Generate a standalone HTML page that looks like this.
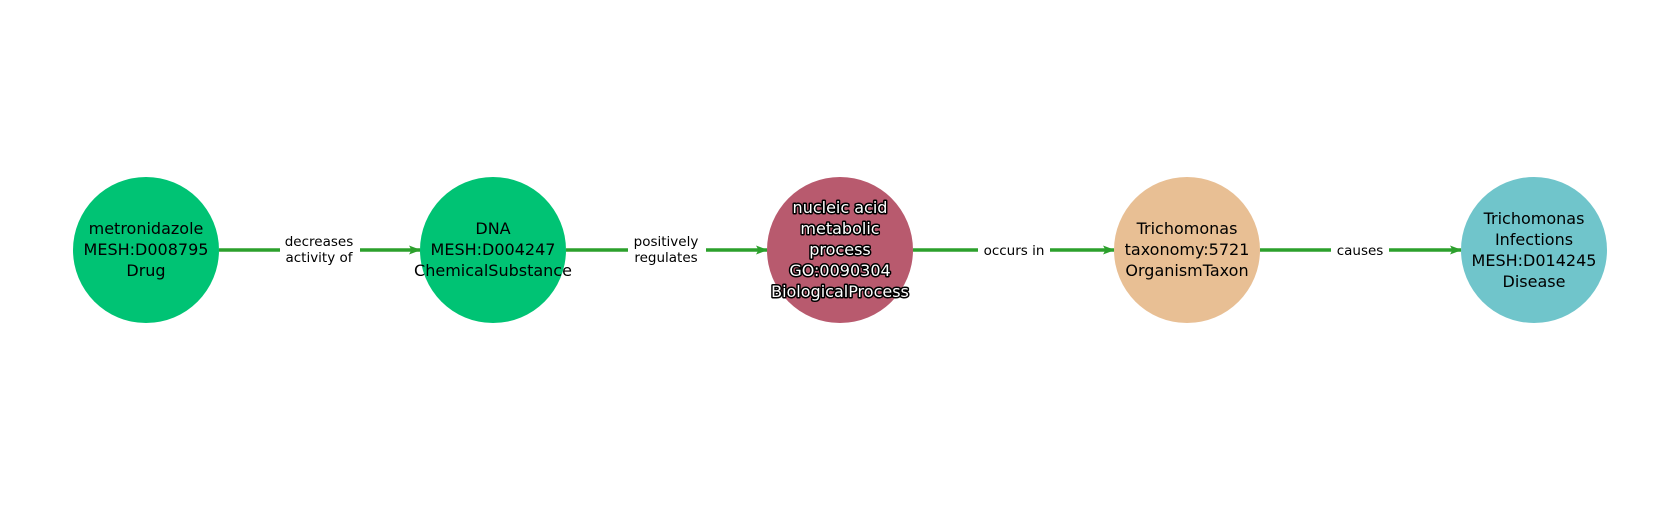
<!DOCTYPE html>
<html><head><meta charset="utf-8"><style>html,body{margin:0;padding:0;background:#fff}</style></head>
<body>
<svg width="1680" height="500" viewBox="0 0 1680 500" xmlns="http://www.w3.org/2000/svg" font-family="'DejaVu Sans', 'Liberation Sans', sans-serif">
<defs><marker id="a" markerWidth="12" markerHeight="12" refX="11" refY="6" orient="auto" markerUnits="userSpaceOnUse"><path d="M0,1.5 L12,6 L0,10.5 L2.5,6 Z" fill="#2ca02c"/></marker></defs>
<g stroke="#2ca02c" stroke-width="3.5" marker-end="url(#a)">
<line x1="219" y1="250" x2="420" y2="250"/>
<line x1="566" y1="250" x2="767" y2="250"/>
<line x1="913" y1="250" x2="1114" y2="250"/>
<line x1="1260" y1="250" x2="1461" y2="250"/>
</g>
<g fill="#fff">
<rect x="280" y="232" width="80" height="36"/>
<rect x="628" y="232" width="78" height="36"/>
<rect x="978" y="240" width="72" height="20"/>
<rect x="1331" y="240" width="58" height="20"/>
</g>
<g font-size="13.5" text-anchor="middle" fill="#000">
<text x="319" y="246">decreases</text><text x="319" y="262">activity of</text>
<text x="666" y="246">positively</text><text x="666" y="262">regulates</text>
<text x="1014" y="255">occurs in</text>
<text x="1360" y="255">causes</text>
</g>
<circle cx="146" cy="250" r="73" fill="#00c374"/>
<circle cx="493" cy="250" r="73" fill="#00c374"/>
<circle cx="840" cy="250" r="73" fill="#b85a6e"/>
<circle cx="1187" cy="250" r="73" fill="#e8bf94"/>
<circle cx="1534" cy="250" r="73" fill="#70c5cb"/>
<g font-size="16" text-anchor="middle" fill="#000">
<text x="146" y="234">metronidazole</text><text x="146" y="255">MESH:D008795</text><text x="146" y="276">Drug</text>
<text x="493" y="234">DNA</text><text x="493" y="255">MESH:D004247</text><text x="493" y="276">ChemicalSubstance</text>
<text x="1187" y="234">Trichomonas</text><text x="1187" y="255">taxonomy:5721</text><text x="1187" y="276">OrganismTaxon</text>
<text x="1534" y="224">Trichomonas</text><text x="1534" y="245">Infections</text><text x="1534" y="266">MESH:D014245</text><text x="1534" y="287">Disease</text>
<g fill="#fff" stroke="#000" stroke-width="3" paint-order="stroke" stroke-linejoin="round">
<text x="840" y="213">nucleic acid</text><text x="840" y="234">metabolic</text><text x="840" y="255">process</text><text x="840" y="276">GO:0090304</text><text x="840" y="297">BiologicalProcess</text>
</g>
</g>
</svg>
</body></html>
